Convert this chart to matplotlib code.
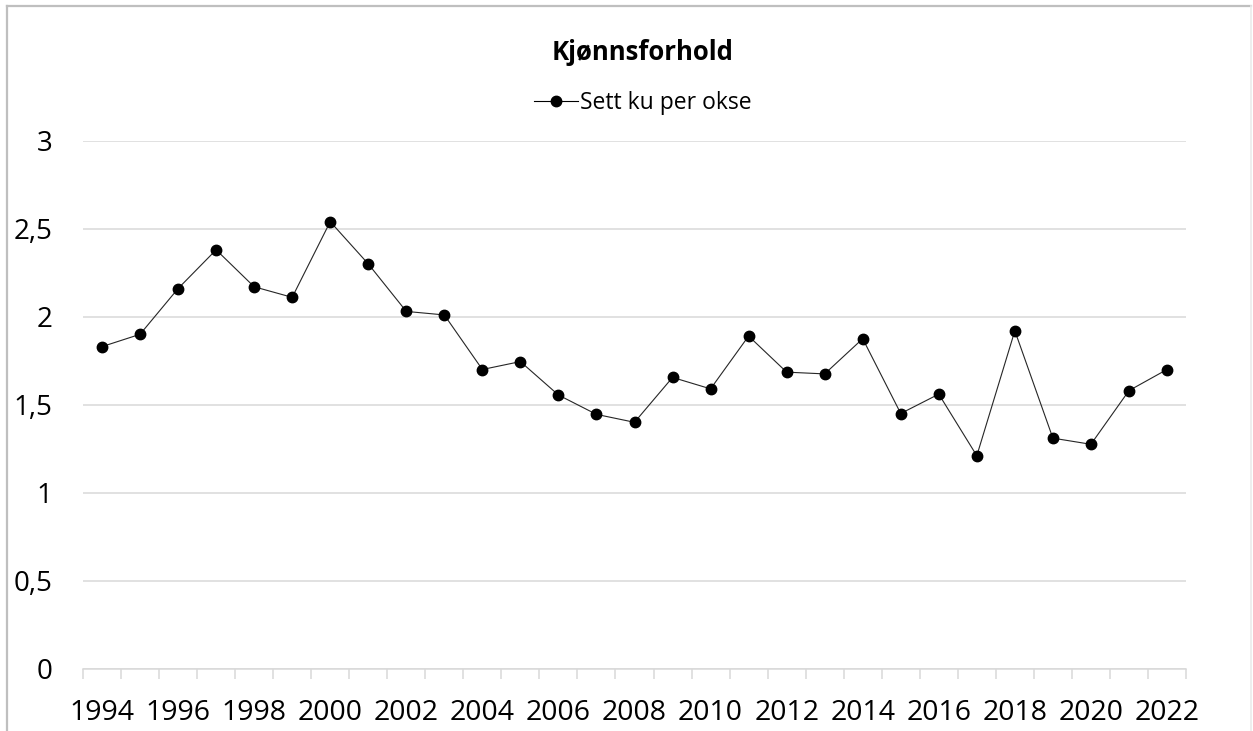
import matplotlib
matplotlib.use("Agg")
import matplotlib.pyplot as plt
from matplotlib.lines import Line2D
import numpy as np

years = list(range(1994, 2023))
values = [1.83, 1.90, 2.16, 2.38, 2.17, 2.11, 2.54, 2.30, 2.03, 2.01,
          1.70, 1.745, 1.555, 1.445, 1.40, 1.655, 1.59, 1.89, 1.685, 1.675,
          1.875, 1.45, 1.56, 1.21, 1.92, 1.31, 1.275, 1.58, 1.70]
yticks = [0, 0.5, 1, 1.5, 2, 2.5, 3]
ytick_labels = ["0", "0,5", "1", "1,5", "2", "2,5", "3"]
title = "Kjønnsforhold"
series_name = "Sett ku per okse"

plt.rcParams['font.family'] = ['Open Sans', 'DejaVu Sans']

W, H = 1253, 731
fig = plt.figure(figsize=(W / 100, H / 100), dpi=100)
ax = fig.add_axes([83 / W, 1 - 668.7 / H, (1186 - 83) / W, (668.7 - 140.7) / H])

x = np.arange(len(years))
ax.plot(x, values, color='#262626', linewidth=0.8, marker='o', markersize=7.5,
        markerfacecolor='black', markeredgecolor='black', zorder=3)

ax.set_xlim(-0.5, len(years) - 0.5)
ax.set_ylim(0, 3)
ax.set_yticks(yticks)
ax.set_yticklabels(ytick_labels)
ax.yaxis.grid(True, color='#d9d9d9', linewidth=1.1)
ax.set_axisbelow(True)

label_idx = x[::2]
ax.set_xticks(label_idx)
ax.set_xticklabels([str(years[i]) for i in label_idx])
ax.set_xticks(np.arange(-0.5, len(years)), minor=True)

for s in ['top', 'right', 'left']:
    ax.spines[s].set_visible(False)
ax.spines['bottom'].set_color('#d9d9d9')
ax.spines['bottom'].set_linewidth(1.1)

ax.tick_params(axis='x', which='major', length=0, pad=22, labelsize=20.5, labelcolor='black')
ax.tick_params(axis='x', which='minor', length=7, width=1.1, color='#d9d9d9', direction='out')
ax.tick_params(axis='y', length=0, pad=22, labelsize=20, labelcolor='black')

fig.text(643 / W, 1 - 52 / H, title, ha='center', va='center', fontsize=18.5, fontweight='bold')

handle = Line2D([0], [0], color='black', linewidth=0.8, marker='o', markersize=7.5,
                markerfacecolor='black', markeredgecolor='black')
fig.legend([handle], [series_name], loc='center', bbox_to_anchor=(643 / W, 1 - 103 / H),
           frameon=False, fontsize=16.5, handlelength=1.9, handletextpad=0.1,
           borderpad=0, borderaxespad=0)

# chart-area border
fig.add_artist(Line2D([7 / W, 7 / W], [0, 1 - 6 / H], transform=fig.transFigure, color='#bfbfbf', linewidth=1.6))
fig.add_artist(Line2D([7 / W, 1251 / W], [1 - 6 / H, 1 - 6 / H], transform=fig.transFigure, color='#bfbfbf', linewidth=1.6))
fig.add_artist(Line2D([1251 / W, 1251 / W], [0, 1 - 6 / H], transform=fig.transFigure, color='#ebebeb', linewidth=1.2))

fig.savefig('out.png', dpi=100, facecolor='white')
